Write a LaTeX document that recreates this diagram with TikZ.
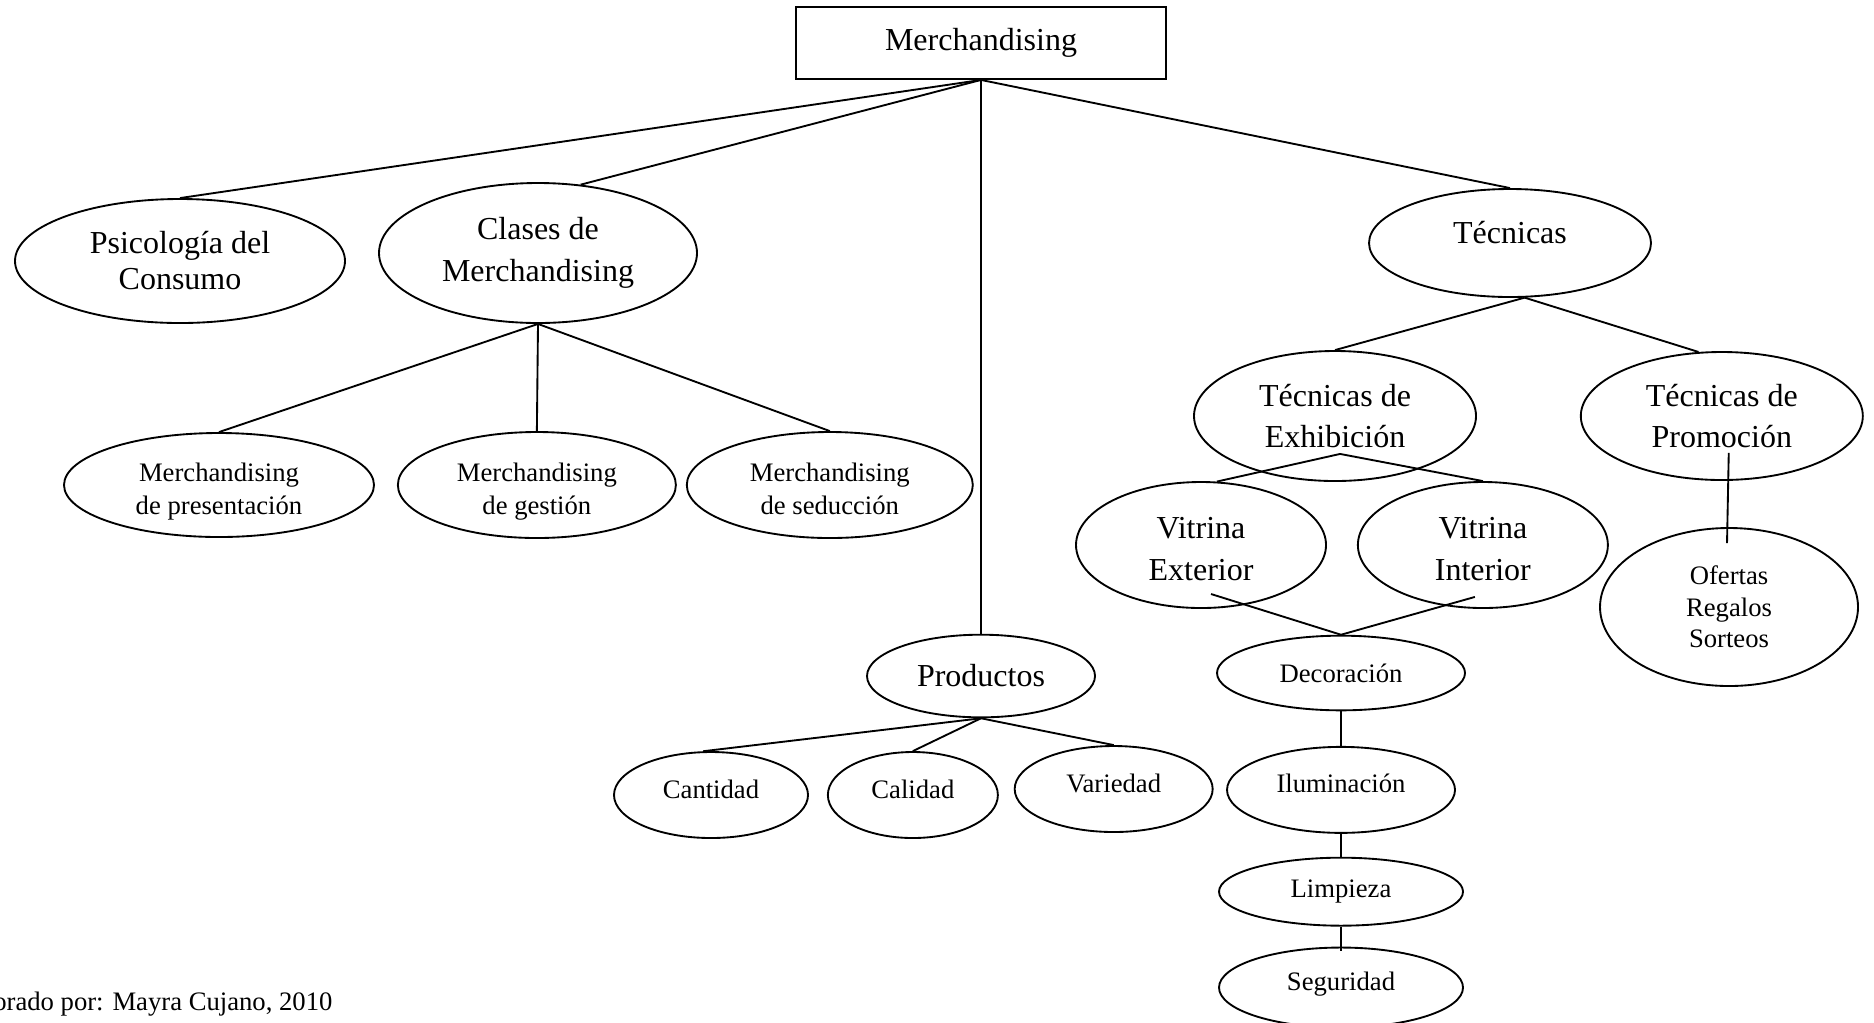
\documentclass[tikz,border=0pt]{standalone}
\usepackage{fontspec}
\setmainfont{Liberation Serif}
\usetikzlibrary{positioning,shapes.geometric}

\begin{document}
\begin{tikzpicture}[
    x=0.375pt, y=-0.375pt,
    every node/.style={inner sep=0pt},
    topbox/.style={draw, line width=0.7pt, minimum width=138.75pt, minimum height=27pt,
                font=\fontsize{12}{14}\selectfont},
    bigell/.style={draw, ellipse, line width=0.7pt, align=center,
                font=\fontsize{12}{15.5}\selectfont},
    smallell/.style={draw, ellipse, line width=0.7pt, align=center,
                font=\fontsize{10}{11.8}\selectfont},
    merchell/.style={smallell, font=\fontsize{10}{12.6}\selectfont,
                text height=24.4pt, text depth=2.2pt},
    uptext/.style={text height=8pt, text depth=5.7pt},
    link/.style={line width=0.7pt},
  ]
  \useasboundingbox (0,0) rectangle (1874,1022);

  \node[topbox] (root) at (981,43) {Merchandising};
  \node[bigell, minimum width=123.75pt, minimum height=46.5pt,
        font=\fontsize{12}{13.5}\selectfont] (psico) at (180,261) {Psicología del\\Consumo};
  \node[bigell, minimum width=119.25pt, minimum height=52.5pt] (clases) at (538,253) {Clases de\\Merchandising};
  \node[bigell, minimum width=105.75pt, minimum height=40.5pt,
        text height=8.5pt, text depth=8pt] (tec) at (1510,243) {Técnicas};
  \node[bigell, minimum width=85.5pt, minimum height=31pt] (prod) at (981,676) {Productos};

  % clases de merchandising
  \node[merchell, minimum width=116.25pt, minimum height=39pt] (pres) at (219,485) {Merchandising\\de presentación};
  \node[merchell, minimum width=104.25pt, minimum height=39.75pt, right=8.25pt of pres] (gest) {Merchandising\\de gestión};
  \node[merchell, minimum width=107.25pt, minimum height=39.75pt, right=3.4pt of gest] (sedu) {Merchandising\\de seducción};

  % tecnicas
  \node[bigell, minimum width=105.75pt, minimum height=48.75pt] (exhib) at (1335,416) {Técnicas de\\Exhibición};
  \node[bigell, minimum width=105.75pt, minimum height=48pt, right=38.6pt of exhib] (promo) {Técnicas de\\Promoción};
  \node[bigell, minimum width=93.75pt, minimum height=47.25pt,
        text height=26.4pt, text depth=0pt] (vext) at (1201,545) {Vitrina\\Exterior};
  \node[bigell, minimum width=93.75pt, minimum height=47.25pt,
        text height=26.4pt, text depth=0pt, right=11.25pt of vext] (vint) {Vitrina\\Interior};
  \node[smallell, minimum width=96.75pt, minimum height=59.25pt] (ofer) at (1729,607) {Ofertas\\Regalos\\Sorteos};
  \node[smallell, minimum width=93pt, minimum height=28pt] (deco) at (1341,673) {Decoración};
  \node[smallell, uptext, minimum width=85.5pt, minimum height=32.25pt, below=13pt of deco] (ilum) {Iluminación};
  \node[smallell, minimum width=91.5pt, minimum height=25.5pt, below=8.6pt of ilum] (limp) {Limpieza};
  \node[smallell, uptext, minimum width=91.5pt, minimum height=30pt, below=7.5pt of limp] (segu) {Seguridad};

  % productos
  \node[smallell, uptext, minimum width=72.75pt, minimum height=32.25pt] (cant) at (711,795) {Cantidad};
  \node[smallell, uptext, minimum width=63.75pt, minimum height=32.25pt, right=6.75pt of cant] (cali) {Calidad};
  \node[smallell, uptext, minimum width=74.25pt, minimum height=32.25pt, right=5.6pt of cali, yshift=2.25pt] (vari) {Variedad};

  \node[anchor=base east, font=\fontsize{10}{12}\selectfont] (autor) at (333,1010) {Elaborado por: Mayra Cujano, 2010};

  \draw[link] (root.south) -- (psico.north);
  \draw[link] (root.south) -- (clases.58);
  \draw[link] (root.south) -- (prod.north);
  \draw[link] (root.south) -- (tec.north);

  \draw[link] (clases.south) -- (pres.north);
  \draw[link] (clases.south) -- (gest.north);
  \draw[link] (clases.south) -- (sedu.north);

  \draw[link] (tec.-75) -- (exhib.north);
  \draw[link] (tec.-75) -- (promo.110);
  \draw[link] ([xshift=1.9pt,yshift=10.5pt]exhib.south) -- (vext.76);
  \draw[link] ([xshift=1.9pt,yshift=10.5pt]exhib.south) -- (vint.north);
  \draw[link] ([xshift=3.75pt,yshift=5.6pt]vext.south) -- (deco.north);
  \draw[link] ([xshift=-3pt,yshift=4.5pt]vint.south) -- (deco.north);
  \draw[link] (deco.south) -- (ilum.north);
  \draw[link] (ilum.south) -- (limp.north);
  \draw[link] (limp.south) -- ([yshift=-1.5pt]segu.north);
  \draw[link] ([xshift=2.6pt,yshift=10.5pt]promo.south) -- ([xshift=-0.75pt,yshift=-6pt]ofer.north);

  \draw[link] (prod.south) -- (cant.100);
  \draw[link] (prod.south) -- (cali.north);
  \draw[link] (prod.south) -- (vari.north);
\end{tikzpicture}
\end{document}
